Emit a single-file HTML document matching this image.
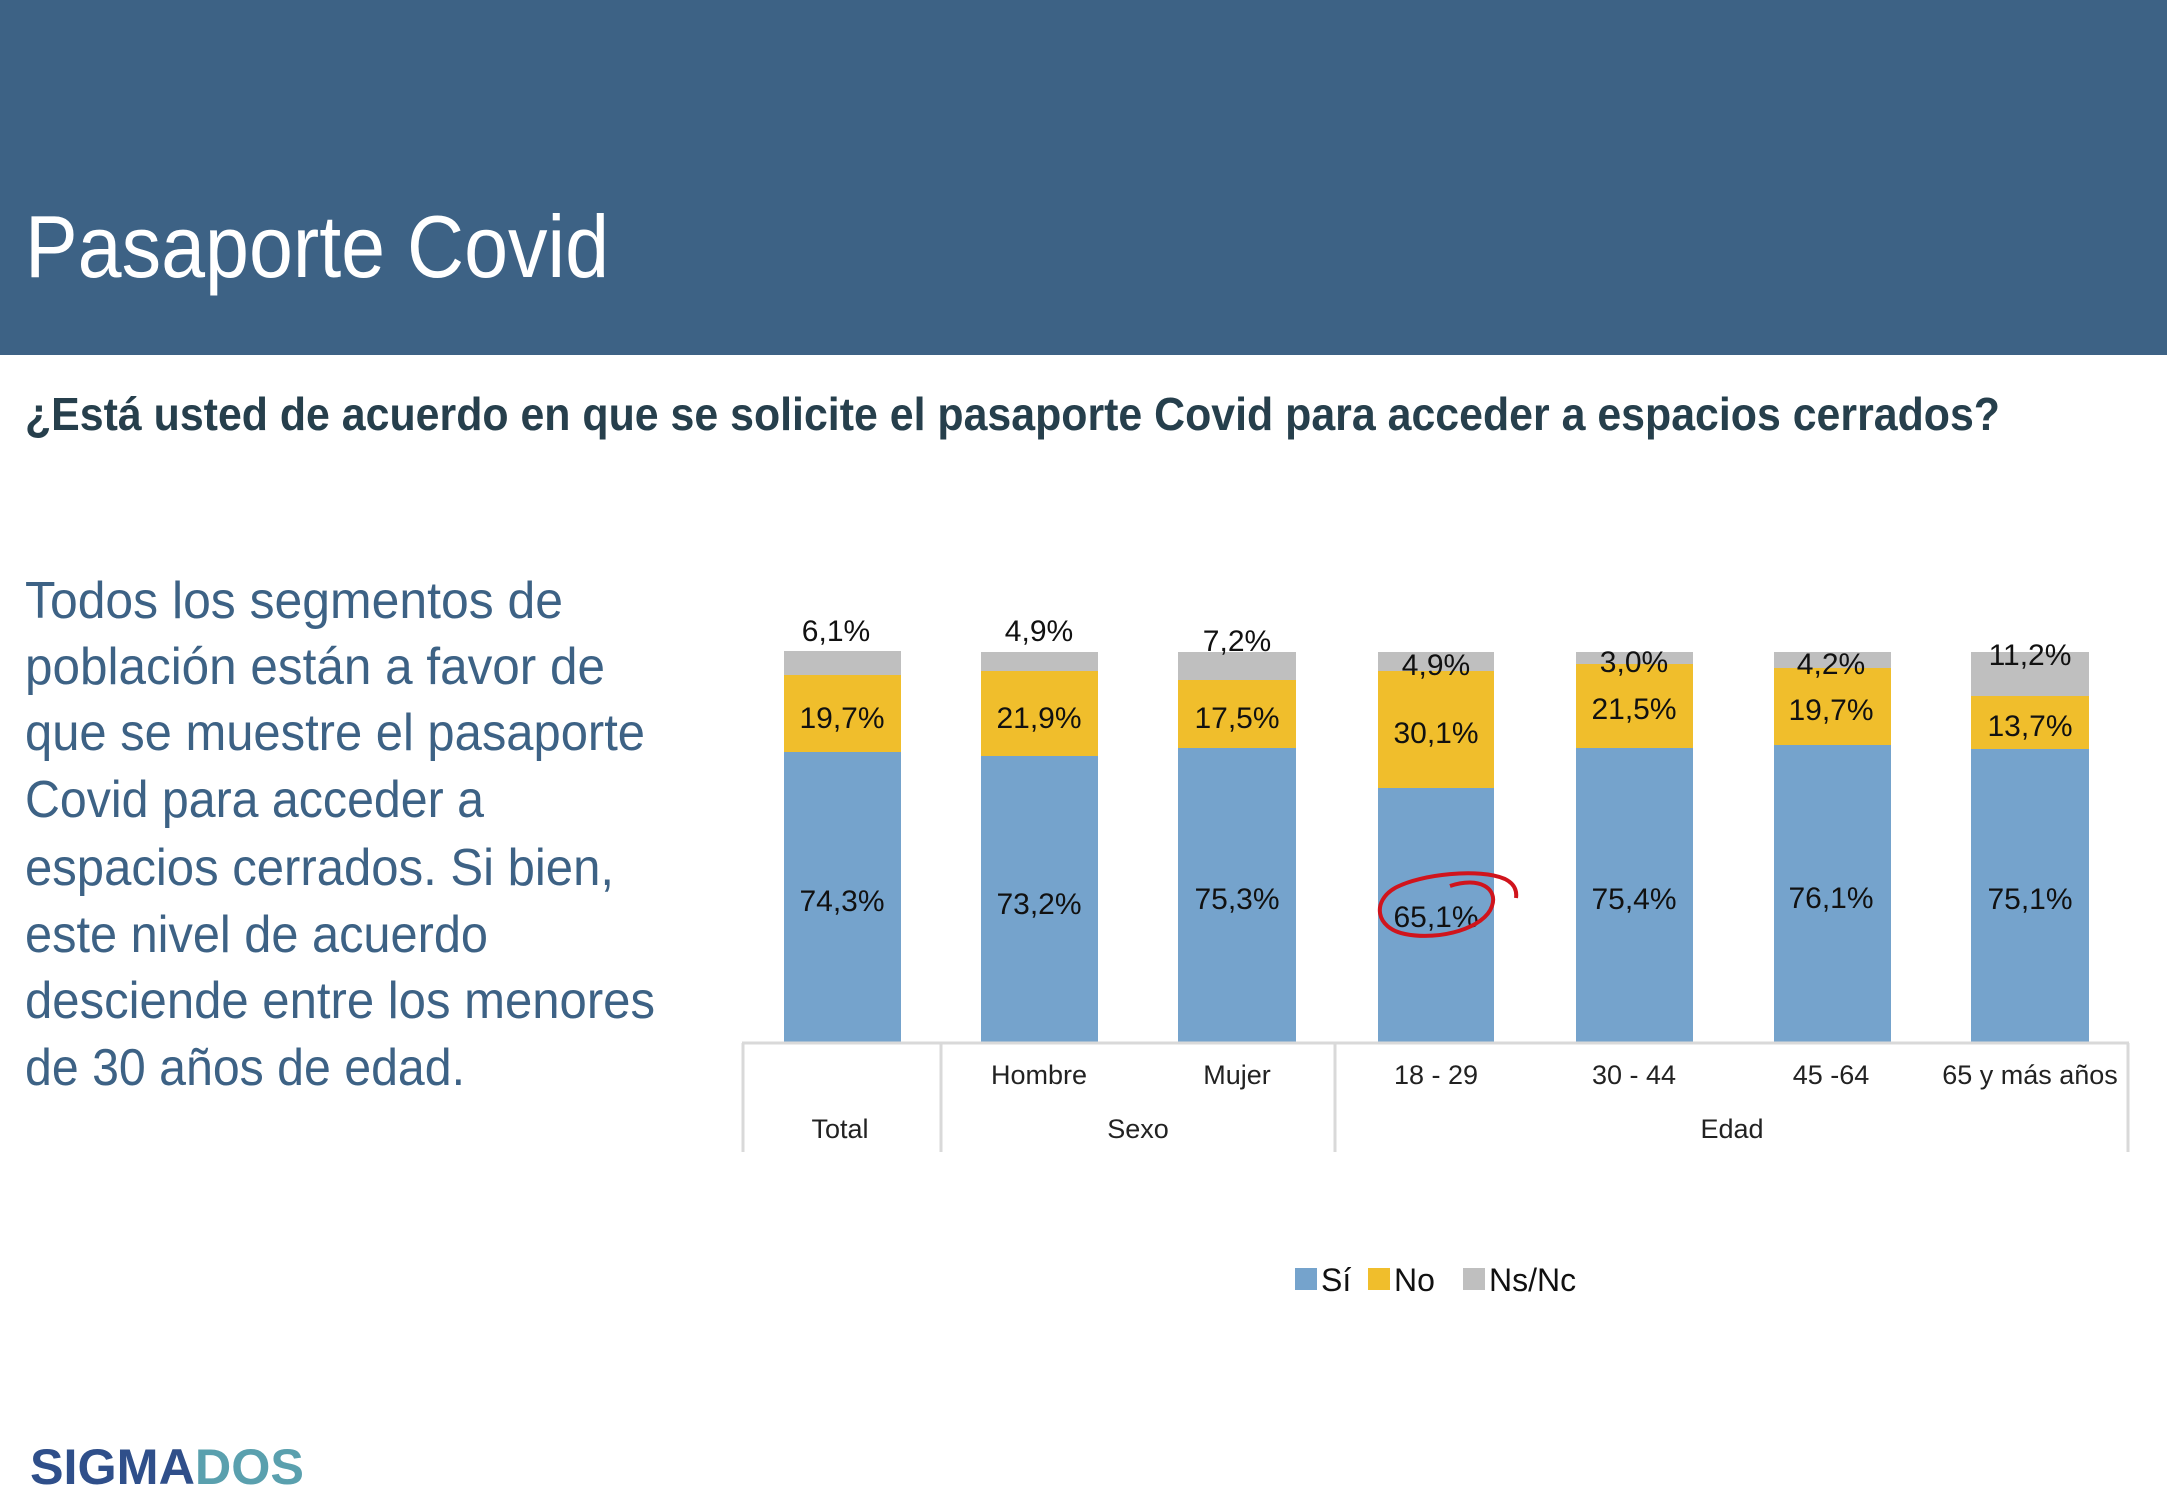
<!DOCTYPE html>
<html><head><meta charset="utf-8"><style>
html,body{margin:0;padding:0;background:#fff;}
svg{display:block;}
text{font-family:"Liberation Sans",sans-serif;}
</style></head><body>
<svg width="2167" height="1500" viewBox="0 0 2167 1500" xmlns="http://www.w3.org/2000/svg">
<rect x="0" y="0" width="2167" height="355" fill="#3d6285"/>
<text x="25" y="277" font-size="88" fill="#fff" textLength="584" lengthAdjust="spacingAndGlyphs">Pasaporte  Covid</text>
<text x="25" y="430" font-size="46" font-weight="bold" fill="#263f4c" textLength="1975" lengthAdjust="spacingAndGlyphs">¿Está usted de acuerdo en que se solicite el pasaporte Covid para acceder a espacios cerrados?</text>
<g font-size="52" fill="#3d6285">
<text x="25" y="618" textLength="538" lengthAdjust="spacingAndGlyphs">Todos los segmentos de</text>
<text x="25" y="684" textLength="580" lengthAdjust="spacingAndGlyphs">población están a favor de</text>
<text x="25" y="750" textLength="620" lengthAdjust="spacingAndGlyphs">que se muestre el pasaporte</text>
<text x="25" y="817" textLength="459" lengthAdjust="spacingAndGlyphs">Covid para acceder a</text>
<text x="25" y="885" textLength="589" lengthAdjust="spacingAndGlyphs">espacios cerrados. Si bien,</text>
<text x="25" y="952" textLength="463" lengthAdjust="spacingAndGlyphs">este nivel de acuerdo</text>
<text x="25" y="1018" textLength="630" lengthAdjust="spacingAndGlyphs">desciende entre los menores</text>
<text x="25" y="1085" textLength="440" lengthAdjust="spacingAndGlyphs">de 30 años de edad.</text>
</g>
<g transform="translate(0,-4)">
<g>
<rect x="784" y="655" width="117" height="24" fill="#bfbfbf"/><rect x="784" y="679" width="117" height="77" fill="#f0be2c"/><rect x="784" y="756" width="117" height="290" fill="#75a3cc"/>
<rect x="981" y="656" width="117" height="19" fill="#bfbfbf"/><rect x="981" y="675" width="117" height="86" fill="#f0be2c"/><rect x="981" y="760" width="117" height="286" fill="#75a3cc"/>
<rect x="1178" y="656" width="118" height="28" fill="#bfbfbf"/><rect x="1178" y="684" width="118" height="69" fill="#f0be2c"/><rect x="1178" y="752" width="118" height="294" fill="#75a3cc"/>
<rect x="1378" y="656" width="116" height="19" fill="#bfbfbf"/><rect x="1378" y="675" width="116" height="117" fill="#f0be2c"/><rect x="1378" y="792" width="116" height="254" fill="#75a3cc"/>
<rect x="1576" y="656" width="117" height="12" fill="#bfbfbf"/><rect x="1576" y="668" width="117" height="84" fill="#f0be2c"/><rect x="1576" y="752" width="117" height="294" fill="#75a3cc"/>
<rect x="1774" y="656" width="117" height="16" fill="#bfbfbf"/><rect x="1774" y="672" width="117" height="77" fill="#f0be2c"/><rect x="1774" y="749" width="117" height="297" fill="#75a3cc"/>
<rect x="1971" y="656" width="118" height="44" fill="#bfbfbf"/><rect x="1971" y="700" width="118" height="54" fill="#f0be2c"/><rect x="1971" y="753" width="118" height="293" fill="#75a3cc"/>
</g>
<g font-size="30" fill="#111" text-anchor="middle">
<text x="836" y="645">6,1%</text><text x="842" y="732">19,7%</text><text x="842" y="915">74,3%</text>
<text x="1039" y="645">4,9%</text><text x="1039" y="732">21,9%</text><text x="1039" y="918">73,2%</text>
<text x="1237" y="655">7,2%</text><text x="1237" y="732">17,5%</text><text x="1237" y="913">75,3%</text>
<text x="1436" y="679">4,9%</text><text x="1436" y="747">30,1%</text><text x="1436" y="931">65,1%</text>
<text x="1634" y="676">3,0%</text><text x="1634" y="723">21,5%</text><text x="1634" y="913">75,4%</text>
<text x="1831" y="678">4,2%</text><text x="1831" y="724">19,7%</text><text x="1831" y="912">76,1%</text>
<text x="2030" y="669">11,2%</text><text x="2030" y="740">13,7%</text><text x="2030" y="913">75,1%</text>
</g>
<path d="M1450,890 C1480,880 1498,893 1492,910 C1485,932 1440,945 1405,938 C1375,932 1372,905 1395,892 C1420,878 1480,872 1505,883 C1515,888 1517,895 1516,902" fill="none" stroke="#d0141c" stroke-width="4"/>
<g stroke="#d9d9d9" stroke-width="3" fill="none">
<line x1="742" y1="1047" x2="2129" y2="1047"/>
<line x1="743" y1="1047" x2="743" y2="1156"/>
<line x1="941" y1="1047" x2="941" y2="1156"/>
<line x1="1335" y1="1047" x2="1335" y2="1156"/>
<line x1="2128" y1="1047" x2="2128" y2="1156"/>
</g>
<g font-size="27" fill="#222" text-anchor="middle">
<text x="1039" y="1088">Hombre</text><text x="1237" y="1088">Mujer</text>
<text x="1436" y="1088">18 -  29</text><text x="1634" y="1088">30 -  44</text><text x="1831" y="1088">45 -64</text><text x="2030" y="1088">65 y más años</text>
<text x="840" y="1142">Total</text><text x="1138" y="1142">Sexo</text><text x="1732" y="1142">Edad</text>
</g>
</g>
<g font-size="32" fill="#111">
<rect x="1295" y="1268" width="22" height="22" fill="#75a3cc"/><text x="1321" y="1291">Sí</text>
<rect x="1368" y="1268" width="22" height="22" fill="#f0be2c"/><text x="1394" y="1291">No</text>
<rect x="1463" y="1268" width="22" height="22" fill="#bfbfbf"/><text x="1489" y="1291">Ns/Nc</text>
</g>
<text x="30" y="1484" font-size="50" font-weight="bold" textLength="274" lengthAdjust="spacingAndGlyphs"><tspan fill="#2f4f8a">SIGMA</tspan><tspan fill="#5aa0ae">DOS</tspan></text>
</svg>
</body></html>
